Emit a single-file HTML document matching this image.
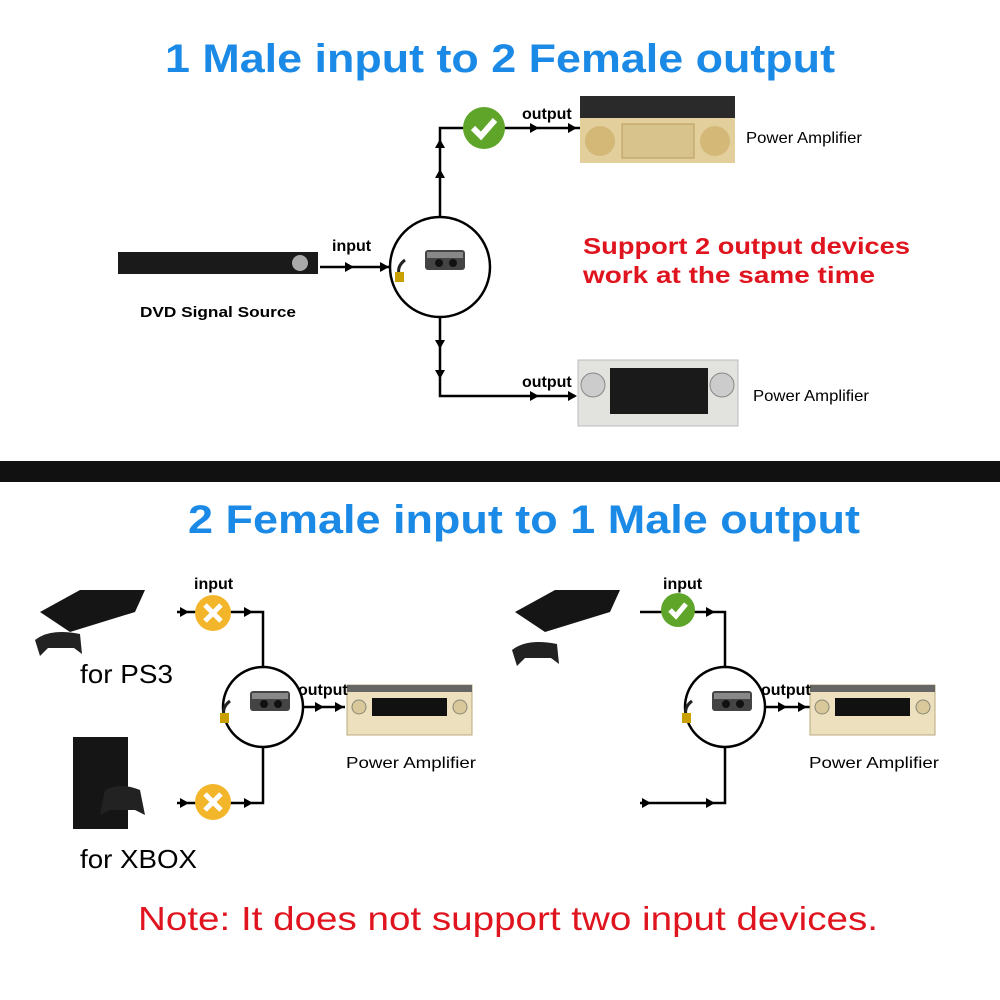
<!DOCTYPE html>
<html><head><style>body{margin:0;background:#fff}svg{display:block}text{font-family:"Liberation Sans",Arial,sans-serif}</style></head><body>
<svg width="1000" height="1000" viewBox="0 0 1000 1000">
<defs>
<g id="spl"><path d="M-30,-2 q-8,6 -6,14" stroke="#222" stroke-width="3" fill="none"/><rect x="-10" y="-12" width="40" height="20" rx="3" fill="#444"/><rect x="-8" y="-10" width="36" height="6" fill="#888"/><circle cx="4" cy="1" r="4" fill="#111"/><circle cx="18" cy="1" r="4" fill="#111"/><rect x="-40" y="10" width="9" height="10" fill="#c8a000"/></g>
<g id="amp"><rect x="0" y="0" width="125" height="50" fill="#ece0bf" stroke="#b8a878"/><rect x="0" y="0" width="125" height="7" fill="#666"/><rect x="25" y="13" width="75" height="18" fill="#111"/><circle cx="12" cy="22" r="7" fill="#d8c89a" stroke="#887"/><circle cx="113" cy="22" r="7" fill="#d8c89a" stroke="#887"/></g>
</defs>
<text x="165" y="72" textLength="670" lengthAdjust="spacingAndGlyphs" font-size="40" font-weight="bold" fill="#1b8ae6">1 Male input to 2 Female output</text>
<rect x="0" y="461" width="1000" height="21" fill="#111"/>
<text x="188" y="533" textLength="672" lengthAdjust="spacingAndGlyphs" font-size="40" font-weight="bold" fill="#1b8ae6">2 Female input to 1 Male output</text>
<g stroke="#000" stroke-width="2.5" fill="none">
<path d="M440,217V128H580"/><path d="M440,317V396H575"/><path d="M320,267H390"/>
<circle cx="440" cy="267" r="50" fill="#fff"/>
<path d="M177,612H263V667"/><path d="M177,803H263V747"/><circle cx="263" cy="707" r="40" fill="#fff"/><path d="M303,707H345"/>
<path d="M640,612H725V667"/><path d="M640,803H725V747"/><circle cx="725" cy="707" r="40" fill="#fff"/><path d="M765,707H810"/>
</g>
<g fill="#000">
<path d="M435,178l5,-9l5,9z"/><path d="M435,148l5,-9l5,9z"/><path d="M435,340l5,9l5,-9z"/><path d="M435,370l5,9l5,-9z"/>
<path d="M530,123l9,5l-9,5z"/><path d="M568,123l9,5l-9,5z"/><path d="M530,391l9,5l-9,5z"/><path d="M568,391l9,5l-9,5z"/>
<path d="M345,262l9,5l-9,5z"/><path d="M380,262l9,5l-9,5z"/>
<path d="M180,607l9,5l-9,5z"/><path d="M244,607l9,5l-9,5z"/><path d="M180,798l9,5l-9,5z"/><path d="M244,798l9,5l-9,5z"/>
<path d="M315,702l9,5l-9,5z"/><path d="M335,702l9,5l-9,5z"/>
<path d="M642,798l9,5l-9,5z"/><path d="M706,798l9,5l-9,5z"/><path d="M706,607l9,5l-9,5z"/>
<path d="M778,702l9,5l-9,5z"/><path d="M798,702l9,5l-9,5z"/>
</g>
<use href="#spl" x="435" y="262"/><use href="#spl" x="260" y="703"/><use href="#spl" x="722" y="703"/>
<circle cx="484" cy="128" r="21" fill="#5ea529"/><path d="M473,128l8,8l14,-16" stroke="#fff" stroke-width="6" fill="none"/>
<circle cx="678" cy="610" r="17" fill="#5ea529"/><path d="M670,610l6,6l10,-12" stroke="#fff" stroke-width="5" fill="none"/>
<circle cx="213" cy="613" r="18" fill="#f3b52a"/><path d="M205,605l16,16M221,605l-16,16" stroke="#fff" stroke-width="5"/>
<circle cx="213" cy="802" r="18" fill="#f3b52a"/><path d="M205,794l16,16M221,794l-16,16" stroke="#fff" stroke-width="5"/>
<rect x="580" y="96" width="155" height="22" fill="#2a2a2a"/><rect x="580" y="118" width="155" height="45" fill="#e3cf9c"/><circle cx="600" cy="141" r="15" fill="#d4b878"/><circle cx="715" cy="141" r="15" fill="#d4b878"/><rect x="622" y="124" width="72" height="34" fill="#d9c38c" stroke="#b89c60"/>
<rect x="578" y="360" width="160" height="66" fill="#e2e2df" stroke="#bbb"/><rect x="610" y="368" width="98" height="46" fill="#1a1a1a"/><circle cx="593" cy="385" r="12" fill="#ccc" stroke="#888"/><circle cx="722" cy="385" r="12" fill="#ccc" stroke="#888"/>
<path d="M118,252h200v22h-200z" fill="#1a1a1a"/><circle cx="300" cy="263" r="8" fill="#aaa"/>
<use href="#amp" x="347" y="685"/><use href="#amp" x="810" y="685"/>
<path d="M40,612l40,-22h65l-10,22l-65,20z" fill="#151515"/><path d="M35,640q15,-12 45,-6l2,20l-8,-6l-26,0l-8,8z" fill="#222"/>
<path d="M515,612l40,-22h65l-10,22l-65,20z" fill="#151515"/><path d="M512,650q15,-12 45,-6l2,20l-8,-6l-26,0l-8,8z" fill="#222"/>
<rect x="73" y="737" width="55" height="92" fill="#151515"/><path d="M105,790q15,-8 35,0l5,25l-10,-5h-25l-10,5z" fill="#222"/>
<g font-size="16" fill="#000" font-weight="bold">
<text x="332" y="251">input</text><text x="522" y="119">output</text><text x="522" y="387">output</text>
<text x="194" y="589">input</text><text x="663" y="589">input</text><text x="298" y="695">output</text><text x="761" y="695">output</text>
</g>
<text x="746" y="143" font-size="16" textLength="116" lengthAdjust="spacingAndGlyphs">Power Amplifier</text><text x="753" y="401" font-size="16" textLength="116" lengthAdjust="spacingAndGlyphs">Power Amplifier</text>
<text x="140" y="317" font-size="15" font-weight="bold" textLength="156" lengthAdjust="spacingAndGlyphs">DVD Signal Source</text>
<text x="346" y="768" font-size="16" textLength="130" lengthAdjust="spacingAndGlyphs">Power Amplifier</text><text x="809" y="768" font-size="16" textLength="130" lengthAdjust="spacingAndGlyphs">Power Amplifier</text>
<text x="80" y="683" font-size="26" textLength="93" lengthAdjust="spacingAndGlyphs">for PS3</text><text x="80" y="868" font-size="26" textLength="117" lengthAdjust="spacingAndGlyphs">for XBOX</text>
<text x="583" y="254" font-size="23" font-weight="bold" fill="#e0141e" textLength="327" lengthAdjust="spacingAndGlyphs">Support 2 output devices</text>
<text x="583" y="283" font-size="23" font-weight="bold" fill="#e0141e" textLength="292" lengthAdjust="spacingAndGlyphs">work at the same time</text>
<text x="138" y="930" font-size="33" fill="#e0141e" textLength="740" lengthAdjust="spacingAndGlyphs">Note: It does not support two input devices.</text>
</svg>
</body></html>
